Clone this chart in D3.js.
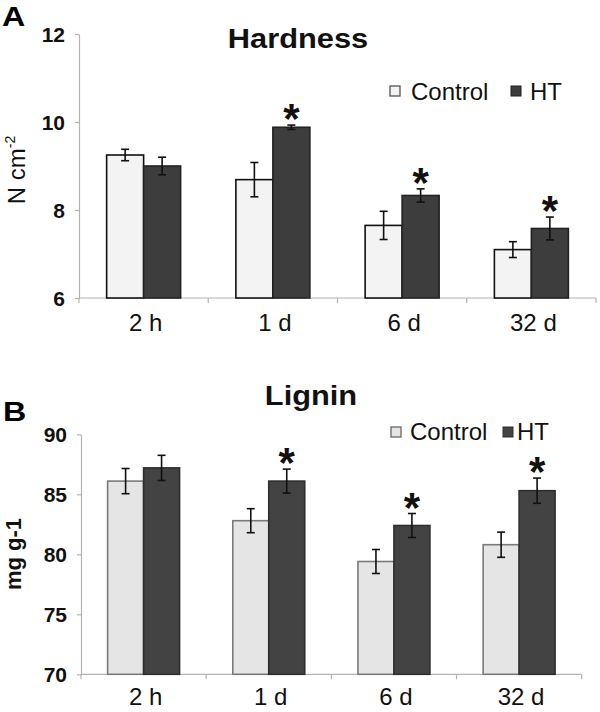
<!DOCTYPE html>
<html>
<head>
<meta charset="utf-8">
<script src="https://cdn.jsdelivr.net/npm/d3@7"></script>
<style>
  html, body { margin: 0; padding: 0; background: #fff; }
  svg { display: block; font-family: "Liberation Sans", Arial, sans-serif; }
</style>
</head>
<body>
<svg id="chart" width="600" height="712"></svg>
<script>
// ---------- data ----------
const categories = ["2 h", "1 d", "6 d", "32 d"];
const seriesNames = ["Control", "HT"];

const hardnessControl    = [9.25, 8.69, 7.65, 7.10];
const hardnessControlErr = [0.13, 0.39, 0.32, 0.18];
const hardnessHT         = [9.00, 9.88, 8.33, 7.58];
const hardnessHTErr      = [0.20, 0.05, 0.15, 0.26];
const hardnessSig        = [false, true, true, true];
const hardnessTicks      = [6, 8, 10, 12];

const ligninControl    = [86.1, 82.8, 79.4, 80.8];
const ligninControlErr = [1.05, 1.0, 1.0, 1.05];
const ligninHT         = [87.2, 86.1, 82.4, 85.3];
const ligninHTErr      = [1.05, 1.0, 1.0, 1.05];
const ligninSig        = [false, true, true, true];
const ligninTicks      = [70, 75, 80, 85, 90];

const svg = d3.select("#chart");

function panel(cfg) {
  const g = svg.append("g");
  const x0 = d3.scaleBand().domain(categories).range([cfg.left, cfg.right]).padding(0);
  const x1 = d3.scaleBand().domain(seriesNames).range([0, x0.bandwidth()])
    .paddingInner(0).paddingOuter(cfg.outerPad);
  const y = d3.scaleLinear().domain(cfg.domain).range([cfg.bottom, cfg.top]);

  // y axis
  const yAxis = g.append("g").attr("transform", `translate(${cfg.left},0)`)
    .call(d3.axisLeft(y).tickValues(cfg.ticks).tickFormat(d3.format("d"))
      .tickSize(4).tickPadding(10).tickSizeOuter(0));
  yAxis.select(".domain").attr("stroke", "#b4b4b4").attr("stroke-width", 1.2);
  yAxis.selectAll(".tick line").attr("stroke", "#b4b4b4").attr("stroke-width", 1.2);
  yAxis.selectAll(".tick text").attr("fill", "#111").attr("font-size", 21)
    .attr("font-family", "'Liberation Sans', Arial, sans-serif")
    .attr("font-weight", "bold").attr("dy", "0.36em");

  // x axis line + ticks at band boundaries
  const xg = g.append("g");
  xg.append("line").attr("x1", cfg.left).attr("x2", cfg.right)
    .attr("y1", cfg.bottom).attr("y2", cfg.bottom)
    .attr("stroke", "#b4b4b4").attr("stroke-width", 1.2);
  const bounds = categories.map(c => x0(c)).concat([x0.range()[1]]);
  xg.selectAll("line.tk").data(bounds).join("line").attr("class", "tk")
    .attr("x1", d => d).attr("x2", d => d)
    .attr("y1", cfg.bottom).attr("y2", cfg.bottom + 5)
    .attr("stroke", "#b4b4b4").attr("stroke-width", 1.2);
  xg.selectAll("text").data(categories).join("text")
    .attr("x", d => x0(d) + x0.bandwidth() / 2 + 2)
    .attr("y", cfg.xLabelY)
    .attr("text-anchor", "middle")
    .attr("font-size", 24).attr("fill", "#111")
    .text(d => d);

  // bars
  const rows = categories.map((c, i) => ({
    cat: c,
    vals: [
      { s: "Control", v: cfg.control[i], e: cfg.controlErr[i] },
      { s: "HT", v: cfg.ht[i], e: cfg.htErr[i], sig: cfg.sig[i] }
    ]
  }));
  const grp = g.selectAll("g.grp").data(rows).join("g").attr("class", "grp")
    .attr("transform", d => `translate(${x0(d.cat)},0)`);
  grp.selectAll("rect").data(d => d.vals).join("rect")
    .attr("x", d => x1(d.s))
    .attr("width", x1.bandwidth())
    .attr("y", d => y(d.v))
    .attr("height", d => y(cfg.domain[0]) - y(d.v))
    .attr("fill", d => d.s === "Control" ? cfg.cFill : cfg.hFill)
    .attr("stroke", d => d.s === "Control" ? cfg.cStroke : cfg.hStroke)
    .attr("stroke-width", 1.6);

  // error bars
  const eb = grp.selectAll("g.eb").data(d => d.vals).join("g").attr("class", "eb");
  const cx = d => x1(d.s) + x1.bandwidth() / 2;
  eb.append("line").attr("x1", cx).attr("x2", cx)
    .attr("y1", d => y(d.v + d.e)).attr("y2", d => y(d.v - d.e))
    .attr("stroke", "#111").attr("stroke-width", 1.6);
  [1, -1].forEach(sgn => {
    eb.append("line").attr("x1", d => cx(d) - 4).attr("x2", d => cx(d) + 4)
      .attr("y1", d => y(d.v + sgn * d.e)).attr("y2", d => y(d.v + sgn * d.e))
      .attr("stroke", "#111").attr("stroke-width", 1.6);
  });

  // significance stars
  grp.selectAll("text.star").data(d => d.vals.filter(v => v.sig)).join("text")
    .attr("class", "star")
    .attr("x", d => cx(d))
    .attr("y", d => y(d.v + d.e) + 8)
    .attr("text-anchor", "middle")
    .attr("font-size", 42).attr("font-weight", "bold").attr("fill", "#111")
    .text("*");

  // title
  svg.append("text")
    .attr("transform", `translate(${cfg.titleX},${cfg.titleY}) scale(1.1,1)`)
    .attr("text-anchor", "middle").attr("font-size", 28).attr("font-weight", "bold")
    .attr("fill", "#111").text(cfg.title);

  // panel letter
  svg.append("text")
    .attr("transform", `translate(${cfg.letterX},${cfg.letterY}) scale(1.15,1)`)
    .attr("font-size", 28).attr("font-weight", "bold").attr("fill", "#000")
    .text(cfg.letter);

  // legend
  const lg = svg.append("g");
  lg.append("rect").attr("x", cfg.leg.cx).attr("y", cfg.leg.sy)
    .attr("width", 10).attr("height", 10)
    .attr("fill", cfg.cFill).attr("stroke", cfg.legCStroke).attr("stroke-width", 1.3);
  lg.append("text").attr("x", cfg.leg.ctx).attr("y", cfg.leg.ty)
    .attr("font-size", 24).attr("fill", "#111").text("Control");
  lg.append("rect").attr("x", cfg.leg.hx).attr("y", cfg.leg.sy)
    .attr("width", 10).attr("height", 10)
    .attr("fill", cfg.hFill).attr("stroke", cfg.hStroke).attr("stroke-width", 1);
  lg.append("text").attr("x", cfg.leg.htx).attr("y", cfg.leg.ty)
    .attr("font-size", 24).attr("fill", "#111").text("HT");

  return g;
}

// Panel A
panel({
  left: 79, right: 596, top: 34, bottom: 298, outerPad: 0.747,
  domain: [6, 12], ticks: hardnessTicks,
  control: hardnessControl, controlErr: hardnessControlErr,
  ht: hardnessHT, htErr: hardnessHTErr, sig: hardnessSig,
  cFill: "#f3f3f3", cStroke: "#111", hFill: "#3d3d3d", hStroke: "#222",
  legCStroke: "#555",
  xLabelY: 331, title: "Hardness", titleX: 298, titleY: 48,
  letter: "A", letterX: 2, letterY: 26,
  leg: { cx: 390, sy: 86, ctx: 411, ty: 100, hx: 511, htx: 530 }
});
// Y label A
svg.append("text")
  .attr("transform", "translate(25,170) rotate(-90)")
  .attr("text-anchor", "middle").attr("font-size", 24).attr("fill", "#111")
  .call(t => {
    t.append("tspan").text("N cm");
    t.append("tspan").attr("font-size", 14).attr("dy", "-0.75em").text("-2");
  });

// Panel B
panel({
  left: 81, right: 581.7, top: 434.3, bottom: 674.3, outerPad: 0.74,
  domain: [70, 90], ticks: ligninTicks,
  control: ligninControl, controlErr: ligninControlErr,
  ht: ligninHT, htErr: ligninHTErr, sig: ligninSig,
  cFill: "#e5e5e5", cStroke: "#7a7a7a", hFill: "#434343", hStroke: "#2e2e2e",
  legCStroke: "#666",
  xLabelY: 705, title: "Lignin", titleX: 311, titleY: 405,
  letter: "B", letterX: 3, letterY: 421,
  leg: { cx: 391, sy: 427, ctx: 410, ty: 440, hx: 503, htx: 517 }
});
// Y label B
svg.append("text")
  .attr("transform", "translate(21,554) rotate(-90)")
  .attr("text-anchor", "middle").attr("font-size", 22).attr("font-weight", "bold")
  .attr("fill", "#111").text("mg g-1");
</script>
</body>
</html>
